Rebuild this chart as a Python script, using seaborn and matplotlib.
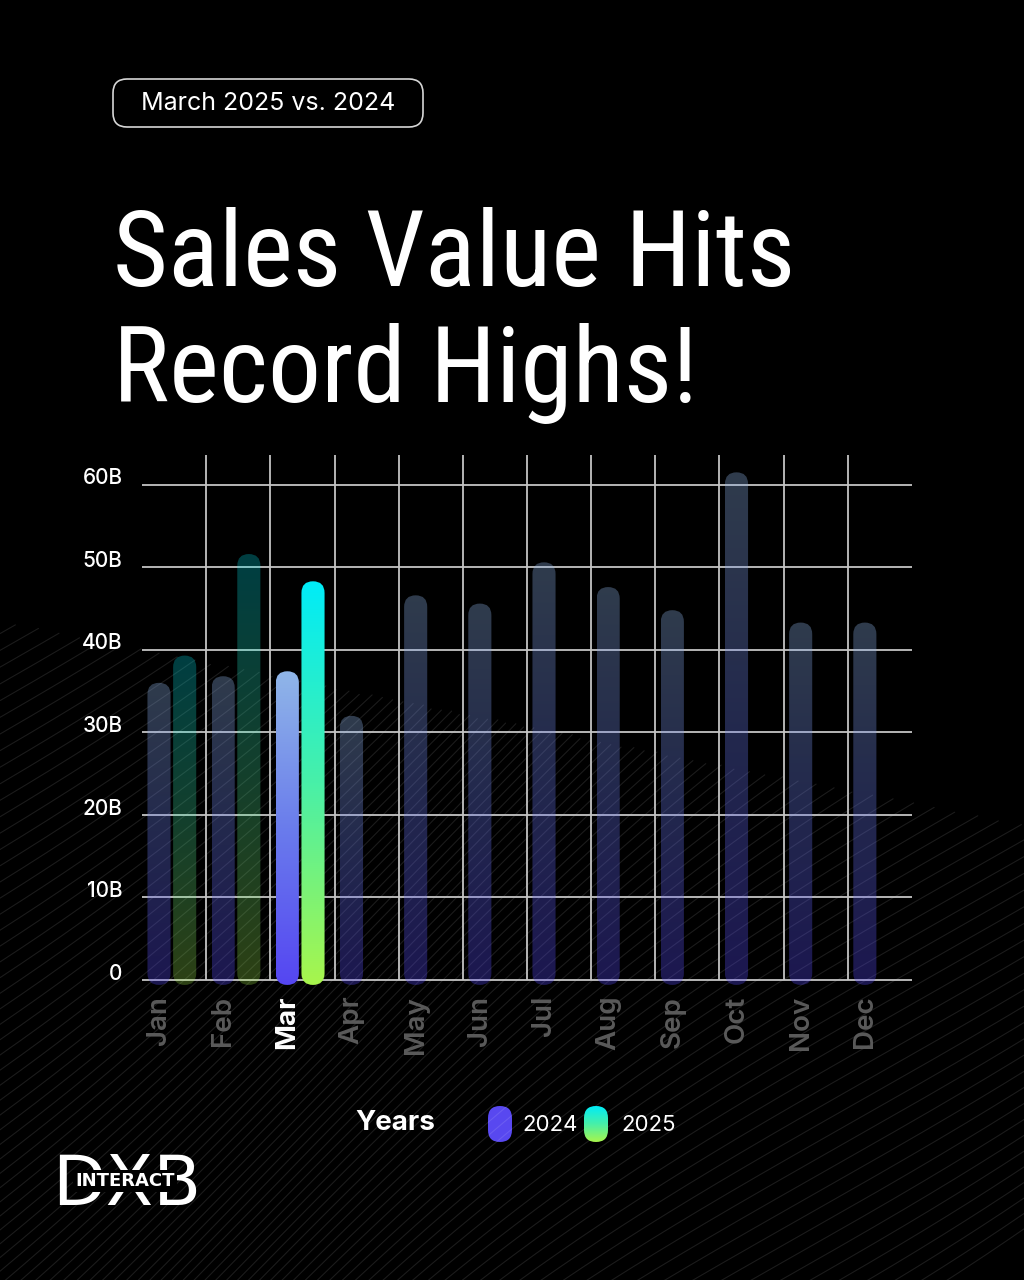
import numpy as np
import pandas as pd
import matplotlib
import matplotlib.pyplot as plt
import seaborn as sns
from matplotlib import font_manager
from matplotlib.patches import FancyBboxPatch
from matplotlib.colors import LinearSegmentedColormap
from matplotlib.transforms import ScaledTranslation

matplotlib.use("Agg")

months = ["Jan", "Feb", "Mar", "Apr", "May", "Jun", "Jul", "Aug", "Sep", "Oct", "Nov", "Dec"]
sales_2024 = [36.0, 36.8, 37.4, 32.0, 46.6, 45.6, 50.6, 47.6, 44.8, 61.5, 43.3, 43.3]
sales_2025 = [39.3, 51.6, 48.3]
years = ["2024", "2025"]
y_ticks = [0, 10, 20, 30, 40, 50, 60]
y_tick_labels = ["0", "10B", "20B", "30B", "40B", "50B", "60B"]
highlight = "Mar"

df = pd.DataFrame({
    "month": months + months[:len(sales_2025)],
    "value": sales_2024 + sales_2025,
    "year": ["2024"] * len(sales_2024) + ["2025"] * len(sales_2025),
})

# bottom -> top colours of the bar gradients, and how strong the non-highlighted bars are
grad_colors = {
    "2024": ["#5546f2", "#6a7cec", "#90b6e8"],
    "2025": ["#a8f54c", "#48f0a8", "#00ecf8"],
}
dim_alpha = {"2024": 0.33, "2025": 0.27}
cmaps = {k: LinearSegmentedColormap.from_list(k, v) for k, v in grad_colors.items()}


def condensed_font():
    # pick the narrowest regular sans that is installed
    fonts = [f for f in font_manager.fontManager.ttflist
             if f.style == "normal" and f.weight in (400, "normal", "regular")]
    prefs = ["Noto Sans ExtraCondensed", "Liberation Sans Narrow", "Noto Sans Condensed",
             "Roboto Condensed", "Open Sans Condensed", "Noto Sans SemiCondensed"]
    for name in prefs:
        for f in fonts:
            if f.name == name:
                return font_manager.FontProperties(fname=f.fname)
    for f in fonts:
        if "condensed" in str(f.stretch) or "Condensed" in f.name or "Narrow" in f.name:
            return font_manager.FontProperties(fname=f.fname)
    return font_manager.FontProperties(family="Roboto")


sns.set_theme(style="dark", rc={"axes.facecolor": "none", "figure.facecolor": "black"})
plt.rcParams["font.family"] = ["Inter", "DejaVu Sans"]

fig = plt.figure(figsize=(10.24, 12.8), dpi=100, facecolor="black")

# --- background / decoration layer in pixel coordinates ---
bg = fig.add_axes([0, 0, 1, 1], zorder=0)
bg.set_xlim(0, 1024)
bg.set_ylim(1280, 0)
bg.axis("off")
bg.set_facecolor("black")

xs = np.linspace(0, 1024, 400)
for k in range(100):
    c = 600 + k * 14
    ys = c - 0.8 * xs + 70 * np.sin(xs / 300 + k * 0.04)
    ys = np.where(ys < 620 + 0.2 * xs, np.nan, ys)
    bg.plot(xs, ys, color="white", alpha=0.11, lw=0.8)

# --- chart ---
ax = fig.add_axes([142 / 1024, 294 / 1280, 770 / 1024, 531 / 1280], zorder=2)
ax.set_facecolor("none")
sns.barplot(data=df, x="month", y="value", hue="year", order=months, hue_order=years,
            width=0.8, gap=0.1, saturation=1, legend=False, ax=ax)

xlim = (-0.465, 11.535)
ylim = (-0.73, 63.6)
ax.set_xlim(*xlim)
ax.set_ylim(*ylim)

px_x = ax.bbox.width / (xlim[1] - xlim[0])
px_y = ax.bbox.height / (ylim[1] - ylim[0])
aspect = px_x / px_y
grad = np.linspace(0, 1, 256).reshape(-1, 1)
bottom = -0.6

for year, container in zip(years, ax.containers):
    for patch in container:
        h = patch.get_height()
        patch.set_visible(False)
        if np.isnan(h):
            continue
        x, w = patch.get_x(), patch.get_width()
        month = months[int(round(x + w / 2))]
        shape = FancyBboxPatch((x, bottom), w, h - bottom,
                               boxstyle=f"round,pad=0,rounding_size={w / 2}",
                               mutation_aspect=aspect, facecolor="none",
                               edgecolor="none", transform=ax.transData)
        ax.add_patch(shape)
        im = ax.imshow(grad, extent=(x, x + w, bottom, h), origin="lower", aspect="auto",
                       cmap=cmaps[year], alpha=1.0 if month == highlight else dim_alpha[year],
                       zorder=3, interpolation="bilinear")
        im.set_clip_path(shape)

# grid
ax.hlines(y_ticks, xlim[0], xlim[1], color="#c4c4c4", lw=1.3, zorder=1)
ax.vlines(np.arange(11) + 0.535, 0, ylim[1], color="#c4c4c4", lw=1.3, zorder=1)
ax.set_xlim(*xlim)
ax.set_ylim(*ylim)
ax.grid(False)
for s in ax.spines.values():
    s.set_visible(False)

ax.set_xlabel("")
ax.set_ylabel("")
ax.set_yticks(y_ticks, y_tick_labels)
ax.set_xticks(np.arange(len(months)) - 0.2, months, rotation=90)
ax.tick_params(axis="y", length=0, pad=14, labelsize=15, labelcolor="white")
ax.tick_params(axis="x", length=0, pad=7, labelsize=20, labelcolor="#5a5a5a")
shift = ScaledTranslation(0, 6 / 72, fig.dpi_scale_trans)
for lab in ax.get_yticklabels():
    lab.set_transform(lab.get_transform() + shift)
    lab.set_fontweight("medium")
for lab in ax.get_xticklabels():
    lab.set_va("top")
    if lab.get_text() == highlight:
        lab.set_color("white")
        lab.set_fontweight("bold")
    else:
        lab.set_fontweight("semibold")

# --- header pill ---
bg.add_patch(FancyBboxPatch((113, 79), 310, 48, boxstyle="round,pad=0,rounding_size=14",
                            facecolor="none", edgecolor="#d6d6d6", lw=1.2))
bg.text(268, 104, "March 2025 vs. 2024", color="white", fontsize=18,
        ha="center", va="center")

# --- title, fitted to the reference width ---
title_fp = condensed_font()
t1 = bg.text(113, 286, "Sales Value Hits", color="white", fontsize=90,
             fontproperties=title_fp, va="baseline", ha="left")
t2 = bg.text(113, 402, "Record Highs!", color="white", fontsize=90,
             fontproperties=title_fp, va="baseline", ha="left")
renderer = fig.canvas.get_renderer()
w1 = t1.get_window_extent(renderer).width
size = min(90 * 682 / w1, 132)
t1.set_fontsize(size)
t2.set_fontsize(size)

# --- legend ---
bg.text(395, 1123, "Years", color="white", fontsize=20, fontweight="bold",
        ha="center", va="center")
bg.add_patch(FancyBboxPatch((488, 1106), 24, 36, boxstyle="round,pad=0,rounding_size=12",
                            facecolor="#5848f0", edgecolor="none"))
pill = FancyBboxPatch((584, 1106), 24, 36, boxstyle="round,pad=0,rounding_size=12",
                      facecolor="none", edgecolor="none")
bg.add_patch(pill)
leg_im = bg.imshow(grad, extent=(584, 608, 1142, 1106), origin="lower", aspect="auto",
                   cmap=cmaps["2025"], zorder=3, interpolation="bilinear")
leg_im.set_clip_path(pill)
bg.text(522, 1125, "2024", color="white", fontsize=16, ha="left", va="center")
bg.text(621, 1125, "2025", color="white", fontsize=16, ha="left", va="center")

# --- logo ---
bg.text(52, 1205, "DXB", color="white", fontsize=50, family=["DejaVu Sans"],
        va="baseline", ha="left")
bg.text(125, 1181, "INTERACT", color="white", fontsize=13, fontweight="bold",
        family=["DejaVu Sans"], ha="center", va="center",
        bbox=dict(facecolor="black", edgecolor="none", pad=1.5))

bg.set_xlim(0, 1024)
bg.set_ylim(1280, 0)

fig.savefig("out.png", dpi=100, facecolor="black")
